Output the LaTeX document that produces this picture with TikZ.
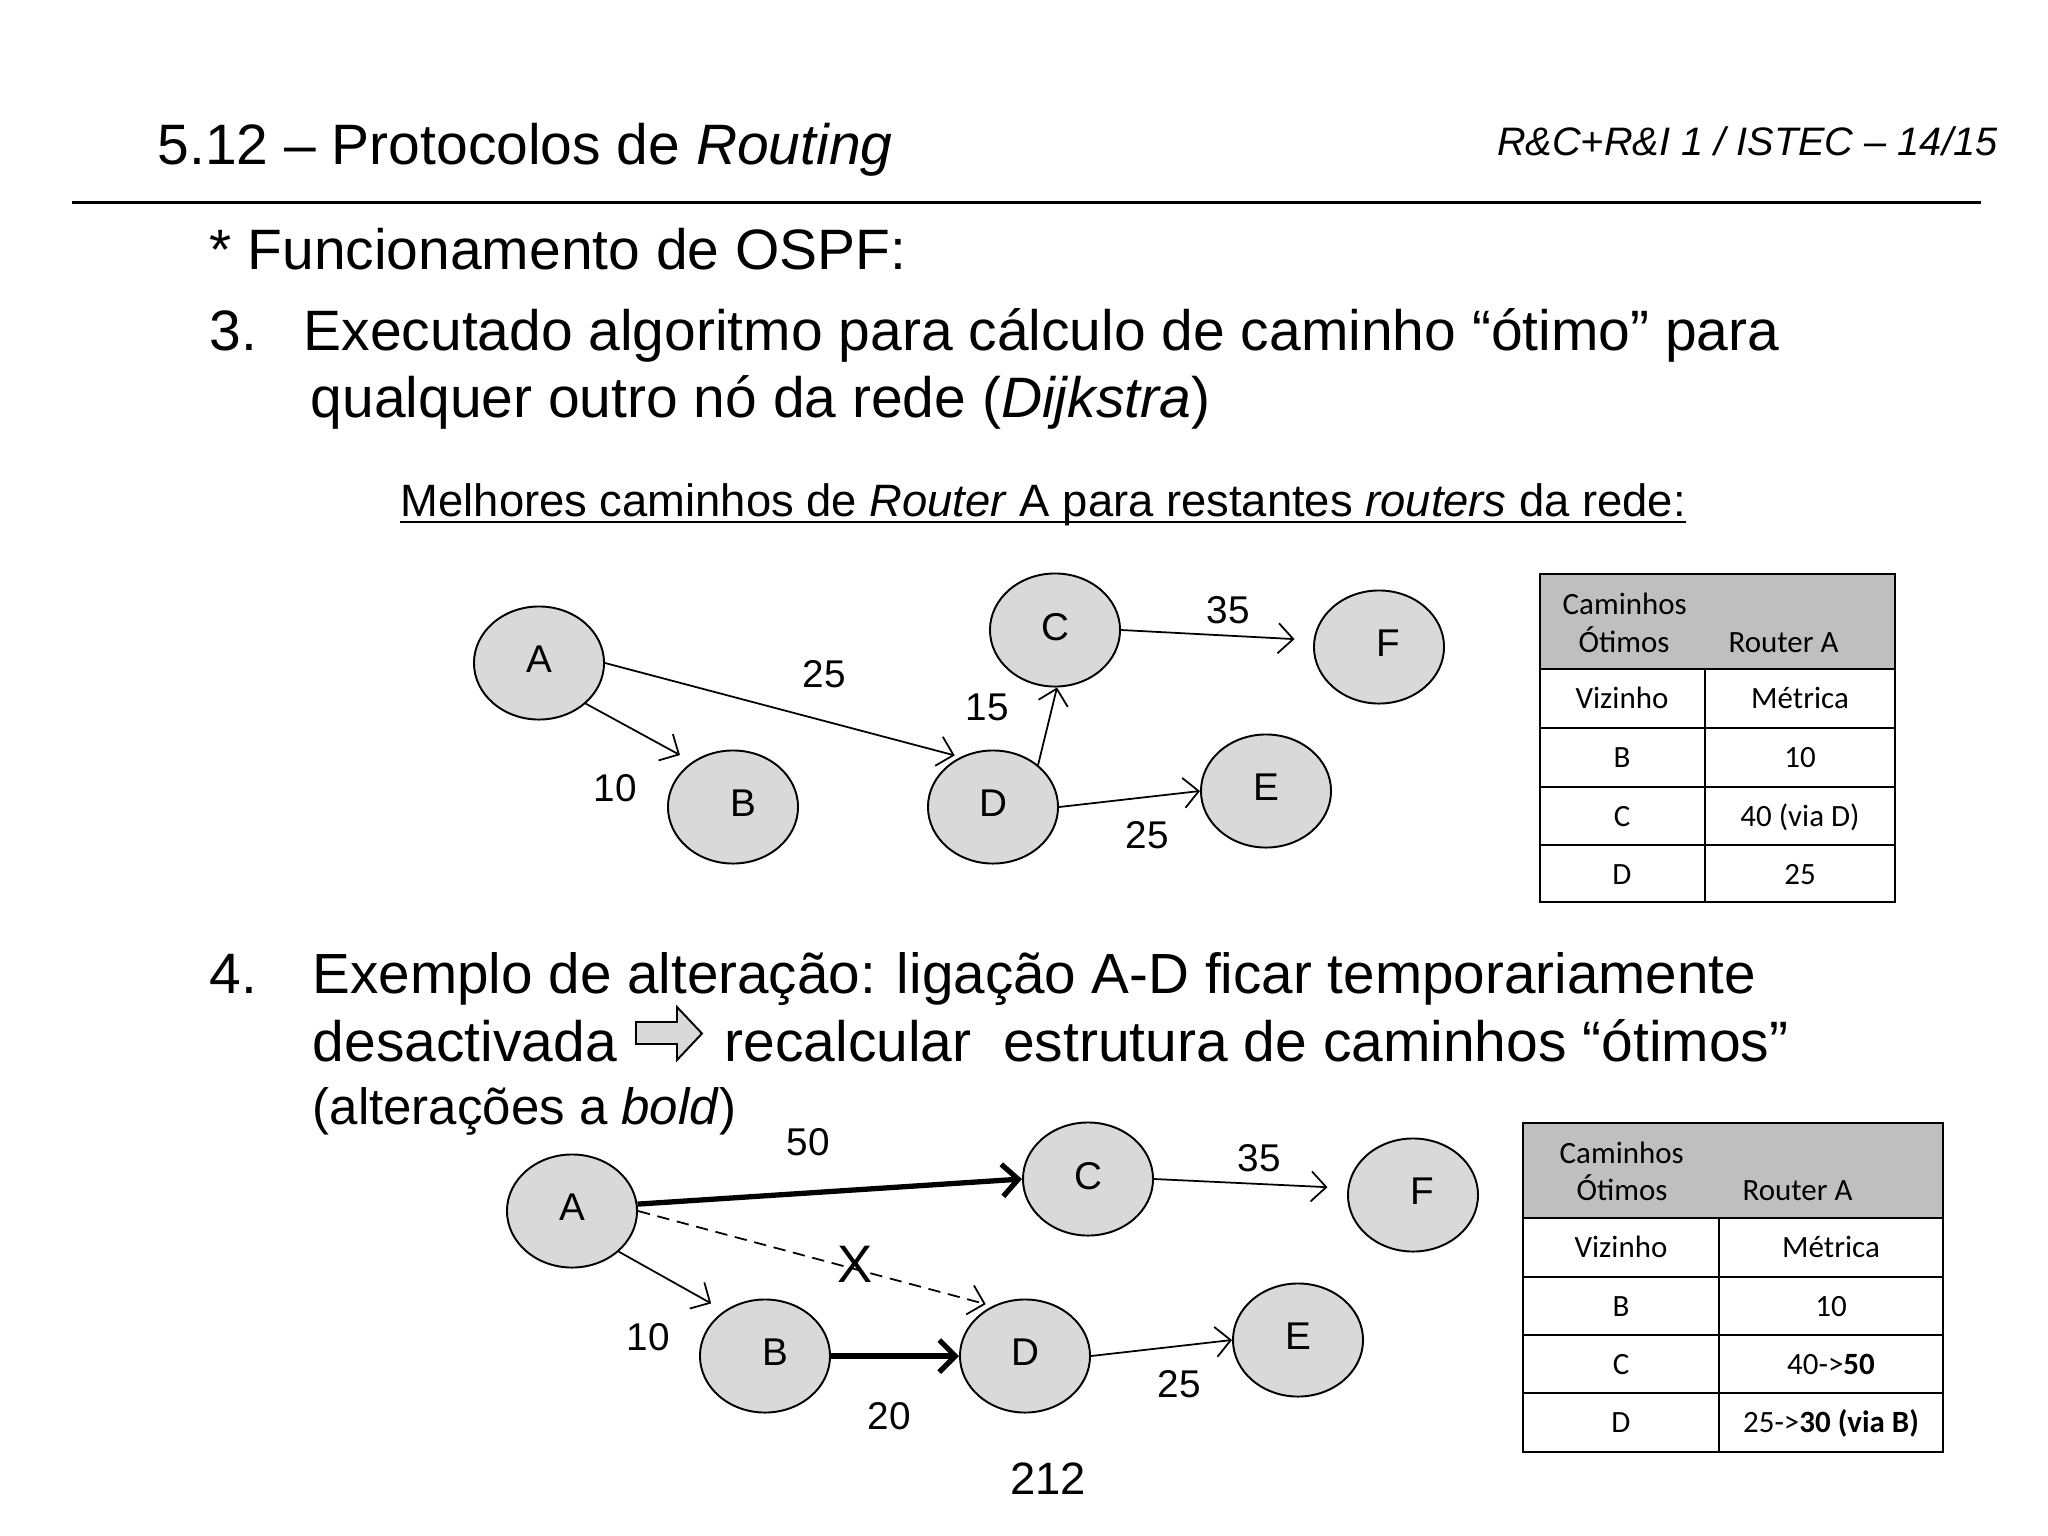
\documentclass[tikz,border=0pt]{standalone}
\usepackage{fontspec}
\setmainfont{Liberation Sans}
\newfontfamily\calibri{Carlito}
\usetikzlibrary{arrows.meta,shapes.geometric,calc}
\definecolor{nodegray}{HTML}{D9D9D9}
\definecolor{headgray}{HTML}{BFBFBF}

\begin{document}
\begin{tikzpicture}[x=0.01cm, y=-0.01cm,
    router/.style={ellipse, draw, fill=nodegray, line width=0.55pt, minimum width=1.3cm, minimum height=1.13cm, inner sep=0pt, text depth=0.07cm, font=\fontsize{11}{13}\selectfont},
    txt/.style={anchor=base west, inner sep=0pt, font=\fontsize{16.2}{19}\selectfont},
    lbl/.style={inner sep=0pt, font=\fontsize{11}{13}\selectfont},
    cell/.style={anchor=base, inner sep=0pt, font=\calibri\fontsize{8.8}{10.5}\selectfont},
    hcell/.style={cell, anchor=base west},
    arrow/.style={-{Straight Barb[length=1.5mm,width=3mm]}, line width=0.5pt},
    boldarrow/.style={-{Straight Barb[length=1.6mm,width=3.2mm]}, line width=1.5pt},
    tabline/.style={line width=0.8pt}
]
\fill[white] (0,0) rectangle (2048,1536);
\useasboundingbox (0,0) rectangle (2048,1536);

% Header
\node[txt] (title) at (157,164) {5.12 – Protocolos de \textit{Routing}};
\node[anchor=base east, inner sep=0pt, font=\fontsize{11.3}{13}\selectfont\itshape] (course) at (1998,155) {R\&C+R\&I 1 / ISTEC – 14/15};
\draw[line width=0.85pt] (72,202) -- (1981,202);

% Text
\node[txt] (ospf) at (209,269) {* Funcionamento de OSPF:};
\node[txt] (n3) at (209,350) {3.};
\node[txt] (l3a) at (303,350) {Executado algoritmo para cálculo de caminho “ótimo” para};
\node[txt] (l3b) at (310,417) {qualquer outro nó da rede (\textit{Dijkstra})};
\node[txt, font=\fontsize{12.9}{15}\selectfont] (sub) at (400,516) {Melhores caminhos de \textit{Router} A para restantes \textit{routers} da rede:};
\draw[line width=0.7pt] ($(sub.base west)+(0,6)$) -- ($(sub.base east)+(0,6)$);

% Graph 1
\node[router] (A1) at (539,663) {A};
\node[router] (B1) at (733,807) {\hspace{0.2cm}B};
\node[router] (C1) at (1055,630) {C};
\node[router] (D1) at (993,807) {D};
\node[router] (E1) at (1266,791) {E};
\node[router] (F1) at (1379,647) {\hspace{0.18cm}F};

\draw[arrow, shorten >=0.14cm] (A1.-41) -- (B1.132);
\draw[arrow, shorten >=0.06cm] (A1.east) -- (D1.123);
\draw[arrow] (D1.43) -- (C1.-88);
\draw[arrow, shorten >=0.19cm] (C1.east) -- (F1.174);
\draw[arrow] (D1.east) -- (E1.west);

\node[lbl] (w1ab) at (615,788) {10};
\node[lbl] (w1ad) at (824,674) {25};
\node[lbl] (w1dc) at (987,707) {15};
\node[lbl] (w1cf) at (1228,610) {35};
\node[lbl] (w1de) at (1147,835) {25};

% Table 1
\fill[headgray] (1540,574) rectangle (1895,669);
\draw[tabline] (1540,574) rectangle (1895,902);
\foreach \y in {669,728,787,845} \draw[tabline] (1540,\y) -- (1895,\y);
\draw[tabline] (1705,669) -- (1705,902);
\node[hcell] (t1h1) at (1562,614) {Caminhos};
\node[hcell] (t1h2) at (1578,652) {Ótimos};
\node[hcell] (t1h3) at (1728,652) {Router A};
\node[cell] (t1v) at (1622,708) {Vizinho};
\node[cell] (t1m) at (1800,708) {Métrica};
\node[cell] (t1b) at (1622,767) {B};
\node[cell] (t1bm) at (1800,767) {10};
\node[cell] (t1c) at (1622,826) {C};
\node[cell] (t1cm) at (1800,826) {40 (via D)};
\node[cell] (t1d) at (1622,884) {D};
\node[cell] (t1dm) at (1800,884) {25};

% Item 4
\node[txt] (n4) at (209,993) {4.};
\node[txt, font=\fontsize{16.1}{19}\selectfont] (l4a) at (312,993) {Exemplo de alteração: ligação A-D ficar temporariamente};
\node[txt] (l4b) at (312,1061) {desactivada};
\draw[line width=0.55pt, fill=nodegray] (636,1022) -- (677,1022) -- (677,1007) -- (702,1033.5)
    -- (677,1060) -- (677,1044) -- (636,1044) -- cycle;
\node[txt] (l4c) at (724,1061) {recalcular\ \ estrutura de caminhos “ótimos”};
\node[txt, font=\fontsize{14.5}{17}\selectfont] (l4d) at (312,1124) {(alterações a \textit{bold})};

% Graph 2
\node[router] (A2) at (572,1211) {A};
\node[router] (B2) at (765,1356) {\hspace{0.2cm}B};
\node[router] (C2) at (1088,1179) {C};
\node[router] (D2) at (1025,1356) {D};
\node[router] (E2) at (1298,1340) {E};
\node[router] (F2) at (1413,1195) {\hspace{0.18cm}F};

\draw[boldarrow] (A2.6) -- (C2.west);
\draw[arrow, dash pattern=on 3.5pt off 2.2pt, shorten >=0.07cm] (A2.east) -- (D2.123);
\draw[arrow, shorten >=0.15cm] (A2.-41) -- (B2.132);
\draw[boldarrow] (B2.east) -- (D2.west);
\draw[arrow, shorten >=0.2cm] (C2.east) -- (F2.174);
\draw[arrow] (D2.east) -- (E2.west);
\node[inner sep=0pt, font=\fontsize{15}{17}\selectfont] (cut) at (855,1264) {X};

\node[lbl] (w2ac) at (808,1142) {50};
\node[lbl] (w2ab) at (648,1337) {10};
\node[lbl] (w2bd) at (889,1416) {20};
\node[lbl] (w2cf) at (1259,1158) {35};
\node[lbl] (w2de) at (1179,1384) {25};

% Table 2
\fill[headgray] (1523,1123) rectangle (1943,1218);
\draw[tabline] (1523,1123) rectangle (1943,1452);
\foreach \y in {1218,1277,1335,1393} \draw[tabline] (1523,\y) -- (1943,\y);
\draw[tabline] (1719,1218) -- (1719,1452);
\node[hcell] (t2h1) at (1559,1163) {Caminhos};
\node[hcell] (t2h2) at (1576,1200) {Ótimos};
\node[hcell] (t2h3) at (1742,1200) {Router A};
\node[cell] (t2v) at (1621,1257) {Vizinho};
\node[cell] (t2m) at (1831,1257) {Métrica};
\node[cell] (t2b) at (1621,1316) {B};
\node[cell] (t2bm) at (1831,1316) {10};
\node[cell] (t2c) at (1621,1374) {C};
\node[cell] (t2cm) at (1831,1374) {40->\textbf{50}};
\node[cell] (t2d) at (1621,1432) {D};
\node[cell] (t2dm) at (1831,1432) {25->\textbf{30 (via B)}};

% Page number
\node[anchor=base, inner sep=0pt, font=\fontsize{12.9}{15}\selectfont] (page) at (1048,1494) {212};

\end{tikzpicture}
\end{document}
